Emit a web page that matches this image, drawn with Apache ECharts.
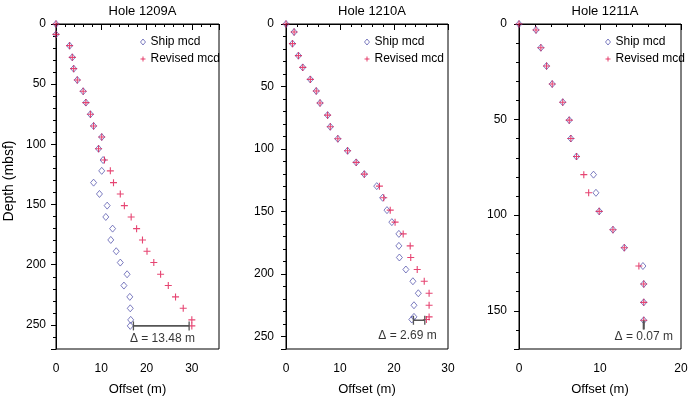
<!DOCTYPE html>
<html>
<head>
<meta charset="utf-8">
<script src="https://cdn.jsdelivr.net/npm/echarts@6/dist/echarts.min.js"></script>
<style>
  html, body { margin: 0; padding: 0; background: #fff; }
  #chart { width: 688px; height: 398px; }
</style>
</head>
<body>
<div id="chart"></div>
<script>
/** panel titles */
const holes = ["Hole 1209A", "Hole 1210A", "Hole 1211A"];

/** depth (mbsf) of each core point */
const depth1209 = [0, 8.6, 18, 27.7, 37.1, 46.5, 55.9, 65.3, 75, 84.7, 93.9, 103.6, 113, 122, 131.8, 141.2, 150.9, 160.3, 170, 179.4, 188.8, 198.2, 207.9, 217.3, 226.7, 236.2, 245.8, 250.8];
const ship1209 = [0, 0, 3.0, 3.6, 3.9, 4.7, 6.0, 6.6, 7.6, 8.3, 10.1, 9.4, 10.4, 10.1, 8.3, 9.6, 11.3, 11.0, 12.5, 12.1, 13.3, 14.2, 15.7, 15.0, 16.3, 16.4, 16.5, 16.4];
const rev1209 = [0, 0, 3.0, 3.6, 3.9, 4.7, 6.0, 6.6, 7.6, 8.3, 10.1, 9.4, 10.7, 12.0, 12.7, 14.2, 15.1, 16.6, 17.8, 19.1, 20.1, 21.6, 23.1, 24.8, 26.4, 28.1, 30.0, 30.0];

const depth1210 = [0, 6.4, 15.7, 25.3, 34.7, 44.3, 53.6, 63.2, 72.9, 82.2, 91.8, 101.4, 110.7, 120.1, 129.7, 139, 148.9, 158.5, 167.9, 177.5, 186.8, 196.4, 205.8, 215.4, 225, 234.3, 236.4];
const ship1210 = [0, 1.5, 1.2, 2.3, 3.1, 4.5, 5.6, 6.3, 7.7, 8.2, 9.6, 11.4, 13.0, 14.5, 16.8, 17.9, 18.7, 19.6, 20.9, 20.9, 21.0, 22.2, 23.5, 24.5, 23.7, 23.7, 23.3];
const rev1210 = [0, 1.5, 1.2, 2.3, 3.1, 4.5, 5.6, 6.3, 7.7, 8.2, 9.6, 11.4, 13.0, 14.5, 17.3, 18.1, 19.3, 20.2, 21.7, 23.0, 23.1, 24.3, 25.6, 26.5, 26.5, 26.5, 26.0];

const depth1211 = [0, 3.1, 12.4, 22, 31.4, 40.9, 50.3, 59.9, 69.3, 78.8, 88.3, 98, 107.6, 117, 126.6, 136, 145.6, 155];
const ship1211 = [0, 2.1, 2.7, 3.4, 4.1, 5.4, 6.2, 6.4, 7.1, 9.2, 9.5, 9.9, 11.6, 13.0, 15.3, 15.4, 15.4, 15.4];
const rev1211 = [0, 2.1, 2.7, 3.4, 4.1, 5.4, 6.2, 6.4, 7.1, 8.0, 8.6, 9.9, 11.6, 13.0, 14.8, 15.4, 15.4, 15.4];

/** delta bars: [from offset, to offset, depth] and their labels */
const deltaBars = [[17.1, 29.4, 250.8], [23.6, 25.7, 237], [15.35, 15.45, 157.5]];
const deltaText = ["\u0394 = 13.48 m", "\u0394 = 2.69 m", "\u0394 = 0.07 m"];
const deltaLabelAt = [[23.5, 261.5], [22.5, 249.6], [15.4, 163.4]];

/** axis extents */
const xMax = [36, 30, 20];
const yMax = [270, 260, 170];

const panels = [
  { depth: depth1209, ship: ship1209, rev: rev1209 },
  { depth: depth1210, ship: ship1210, rev: rev1210 },
  { depth: depth1211, ship: ship1211, rev: rev1211 },
];

/** layout */
const gridLeft = [56, 286, 519];
const gridWidth = [163, 162, 162];
const legendLeft = [133, 357, 598];
const yLabelMargin = [10, 12, 12];

const font = "'Liberation Sans', Arial, sans-serif";
const shipColor = "#4b4ba8";
const revColor = "#e0164f";
const plusPath = "path://M0,5H10M5,0V10";

const zip = (xs, ys) => xs.map((x, i) => [x, ys[i]]);

const option = {
  animation: false,
  textStyle: { fontFamily: font, color: "#000" },
  title: holes.map((text, i) => ({
    text,
    left: gridLeft[i] + gridWidth[i] / 2,
    textAlign: "center",
    top: 0,
    textStyle: { fontSize: 13, fontWeight: "normal", color: "#000", fontFamily: font },
  })),
  legend: legendLeft.map((left) => ({
    data: [
      {
        name: "Ship mcd",
        icon: "diamond",
        itemStyle: { color: "none", borderColor: shipColor, borderWidth: 0.9 },
      },
      {
        name: "Revised mcd",
        icon: plusPath,
        itemStyle: { color: "none", borderColor: revColor, borderWidth: 1 },
      },
    ],
    orient: "vertical",
    left,
    top: 31,
    itemWidth: 5,
    itemHeight: 6,
    itemGap: 5,
    selectedMode: false,
    textStyle: { fontSize: 12, color: "#000", fontFamily: font },
  })),
  grid: gridLeft.map((left, i) => ({
    left,
    top: 24,
    width: gridWidth[i],
    height: 325,
    outerBoundsMode: "none",
    containLabel: false,
    show: true,
    borderColor: "#000",
    borderWidth: 1,
    backgroundColor: "transparent",
  })),
  xAxis: [
    /** labelled axes, major ticks */
    ...xMax.map((max, i) => ({
      type: "value",
      gridIndex: i,
      position: "bottom",
      min: 0,
      max,
      interval: 10,
      axisLine: { show: true, lineStyle: { color: "#000" } },
      axisTick: { show: true, length: 6, lineStyle: { color: "#000" } },
      axisLabel: {
        margin: 14,
        fontSize: 12,
        color: "#000",
        fontFamily: font,
        formatter: (v) => (v % 10 === 0 ? String(v) : ""),
      },
      splitLine: { show: false },
      name: "Offset (m)",
      nameLocation: "middle",
      nameGap: 34,
      nameTextStyle: { fontSize: 13, color: "#000", fontFamily: font },
    })),
    /** minor tick axes */
    ...xMax.map((max, i) => ({
      type: "value",
      gridIndex: i,
      position: "bottom",
      min: 0,
      max,
      interval: 2,
      axisLine: { show: false },
      axisTick: { show: true, length: 3, lineStyle: { color: "#000" } },
      axisLabel: { show: false },
      splitLine: { show: false },
    })),
  ],
  yAxis: [
    ...yMax.map((max, i) => ({
      type: "value",
      gridIndex: i,
      position: "left",
      inverse: true,
      min: 0,
      max,
      interval: 50,
      axisLine: { show: true, lineStyle: { color: "#000" } },
      axisTick: { show: true, length: 5, lineStyle: { color: "#000" } },
      axisLabel: {
        margin: yLabelMargin[i],
        fontSize: 12,
        color: "#000",
        fontFamily: font,
        formatter: (v) => (v % 50 === 0 ? String(v) : ""),
      },
      splitLine: { show: false },
    })),
    ...yMax.map((max, i) => ({
      type: "value",
      gridIndex: i,
      position: "left",
      inverse: true,
      min: 0,
      max,
      interval: 10,
      axisLine: { show: false },
      axisTick: { show: true, length: 3, lineStyle: { color: "#000" } },
      axisLabel: { show: false },
      splitLine: { show: false },
    })),
  ],
  graphic: [
    {
      type: "text",
      x: 9,
      y: 181,
      rotation: Math.PI / 2,
      style: {
        text: "Depth (mbsf)",
        fontSize: 14,
        fontFamily: font,
        fill: "#000",
        align: "center",
        verticalAlign: "middle",
      },
    },
  ],
  series: panels.flatMap((p, i) => [
    {
      name: "Ship mcd",
      type: "scatter",
      xAxisIndex: i,
      yAxisIndex: i,
      symbol: "diamond",
      symbolSize: [6, 7],
      itemStyle: { color: "none", borderColor: shipColor, borderWidth: 0.9 },
      data: zip(p.ship, p.depth),
      z: 3,
    },
    {
      name: "Revised mcd",
      type: "scatter",
      xAxisIndex: i,
      yAxisIndex: i,
      symbol: plusPath,
      symbolSize: 7,
      itemStyle: { color: "none", borderColor: revColor, borderWidth: 1.1 },
      data: zip(p.rev, p.depth),
      z: 4,
    },
    {
      name: "delta" + i,
      type: "line",
      xAxisIndex: i,
      yAxisIndex: i,
      silent: true,
      symbol: "rect",
      symbolSize: [1.3, 9],
      showSymbol: true,
      lineStyle: { color: "#555", width: 1.6 },
      itemStyle: { color: "#555" },
      data: [
        [deltaBars[i][0], deltaBars[i][2]],
        [deltaBars[i][1], deltaBars[i][2]],
      ],
      z: 5,
    },
    {
      name: "deltaLabel" + i,
      type: "scatter",
      xAxisIndex: i,
      yAxisIndex: i,
      silent: true,
      symbolSize: 0,
      label: {
        show: true,
        position: "inside",
        formatter: () => deltaText[i],
        fontSize: 12,
        color: "#000",
        fontFamily: font,
      },
      data: [deltaLabelAt[i]],
    },
  ]),
};

const chart = echarts.init(document.getElementById("chart"), undefined, { renderer: "canvas" });
chart.setOption(option);
</script>
</body>
</html>
